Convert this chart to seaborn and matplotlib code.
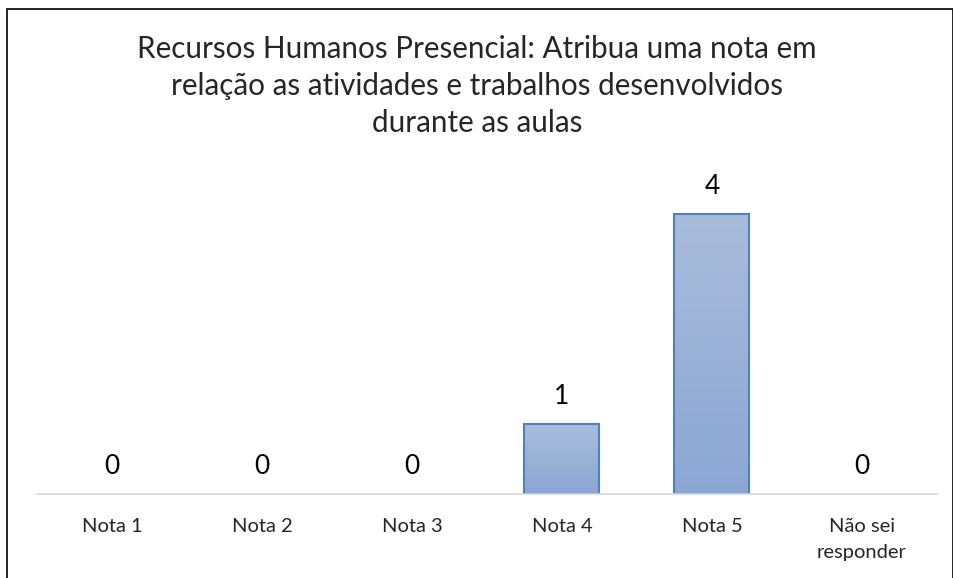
import numpy as np
import pandas as pd
import matplotlib
matplotlib.use("Agg")
import matplotlib.pyplot as plt
import seaborn as sns
from matplotlib.colors import LinearSegmentedColormap
from matplotlib.patches import Rectangle

# Data
categories = ["Nota 1", "Nota 2", "Nota 3", "Nota 4", "Nota 5", "Não sei\nresponder"]
counts = [0, 0, 0, 1, 4, 0]
title = ("Recursos Humanos Presencial: Atribua uma nota em\n"
         "relação as atividades e trabalhos desenvolvidos\n"
         "durante as aulas")

df = pd.DataFrame({"categoria": categories, "respostas": counts})

sns.set_style("white")
plt.rcParams["font.family"] = ["Lato", "DejaVu Sans"]

fig = plt.figure(figsize=(9.54, 5.78), dpi=100)
ax = fig.add_axes([37 / 954, 84 / 578, 900 / 954, 315 / 578])

sns.barplot(data=df, x="categoria", y="respostas", ax=ax, width=0.5,
            color="#9cb3d9", edgecolor="#4f81bd", linewidth=1.5)

# gradient fill on the bars (lighter at top)
grad = LinearSegmentedColormap.from_list("g", ["#8aa7d4", "#aabcdc"])
for bar in ax.patches:
    if bar.get_height() <= 0:
        bar.set_visible(False)
        continue
    x0, y0 = bar.get_x(), bar.get_y()
    w, h = bar.get_width(), bar.get_height()
    img = ax.imshow(np.linspace(0, 1, 100).reshape(-1, 1), cmap=grad, origin="lower",
                    extent=[x0, x0 + w, y0, y0 + h], aspect="auto", zorder=bar.get_zorder())
    img.set_clip_path(bar)
    bar.set_facecolor("none")
    bar.set_zorder(bar.get_zorder() + 0.1)

ax.set_xlim(-0.5, len(categories) - 0.5)
ax.set_ylim(0, 4.5)

for i, v in enumerate(counts):
    ax.text(i, v + 0.22, str(v), ha="center", va="bottom", fontsize=19, color="black")

ax.set_xlabel("")
ax.set_ylabel("")
ax.set_yticks([])
ax.tick_params(axis="x", length=0, pad=17, labelsize=14.5)
for lbl in ax.get_xticklabels():
    lbl.set_verticalalignment("top")
    lbl.set_linespacing(1.65)
for s in ["top", "right", "left"]:
    ax.spines[s].set_visible(False)
ax.spines["bottom"].set_color("#d9d9d9")
ax.spines["bottom"].set_linewidth(1.2)

fig.text(0.5, 1 - 86 / 578, title, ha="center", va="center", fontsize=21.3, linespacing=1.4)

# chart border
fig.patches.append(Rectangle((7 / 954, -0.01), 946 / 954, 1 - 9 / 578 + 0.01,
                             transform=fig.transFigure, fill=False,
                             edgecolor="black", linewidth=1.2))

fig.savefig("out.png", dpi=100)
